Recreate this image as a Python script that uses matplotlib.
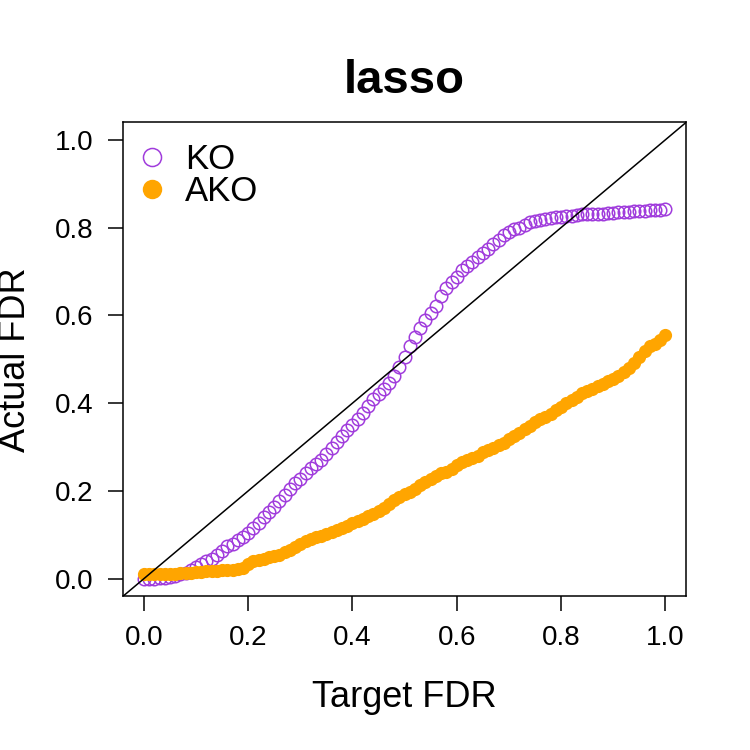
import numpy as np
import matplotlib
matplotlib.use("Agg")
import matplotlib.pyplot as plt
from matplotlib.lines import Line2D

plt.rcParams["font.family"] = ["Liberation Sans", "DejaVu Sans"]

# target FDR levels 0.00, 0.01, ..., 1.00
target_fdr = np.linspace(0.0, 1.0, 101)

ko_fdr = [
    0.000, 0.000, 0.000, 0.001, 0.002, 0.004, 0.007, 0.010, 0.014, 0.020,
    0.027, 0.033, 0.040, 0.046, 0.055, 0.062, 0.075, 0.080, 0.088, 0.095,
    0.103, 0.115, 0.128, 0.140, 0.152, 0.163, 0.176, 0.190, 0.205, 0.218,
    0.228, 0.240, 0.252, 0.262, 0.270, 0.283, 0.298, 0.312, 0.325, 0.338,
    0.350, 0.365, 0.378, 0.393, 0.410, 0.420, 0.432, 0.445, 0.462, 0.482,
    0.505, 0.530, 0.550, 0.572, 0.590, 0.605, 0.622, 0.645, 0.663, 0.675,
    0.688, 0.703, 0.712, 0.722, 0.732, 0.742, 0.752, 0.762, 0.772, 0.782,
    0.790, 0.796, 0.800, 0.806, 0.812, 0.815, 0.817, 0.820, 0.822, 0.823,
    0.825, 0.826, 0.826, 0.828, 0.830, 0.830, 0.831, 0.832, 0.832, 0.833,
    0.834, 0.835, 0.836, 0.836, 0.837, 0.837, 0.838, 0.839, 0.840, 0.841,
    0.842,
]

ako_fdr = [
    0.010, 0.010, 0.010, 0.010, 0.010, 0.011, 0.011, 0.012, 0.012, 0.013,
    0.015, 0.016, 0.017, 0.018, 0.018, 0.019, 0.019, 0.020, 0.021, 0.025,
    0.033, 0.040, 0.043, 0.046, 0.049, 0.052, 0.055, 0.060, 0.066, 0.072,
    0.079, 0.086, 0.091, 0.095, 0.098, 0.102, 0.106, 0.111, 0.116, 0.120,
    0.126, 0.131, 0.137, 0.143, 0.148, 0.154, 0.160, 0.170, 0.180, 0.186,
    0.192, 0.198, 0.205, 0.213, 0.220, 0.228, 0.235, 0.240, 0.243, 0.250,
    0.260, 0.265, 0.270, 0.274, 0.280, 0.288, 0.293, 0.298, 0.304, 0.310,
    0.318, 0.325, 0.333, 0.340, 0.348, 0.356, 0.363, 0.369, 0.376, 0.384,
    0.392, 0.400, 0.408, 0.415, 0.422, 0.428, 0.433, 0.438, 0.444, 0.450,
    0.455, 0.461, 0.470, 0.480, 0.492, 0.505, 0.518, 0.530, 0.535, 0.543,
    0.556,
]

tick_vals = [0.0, 0.2, 0.4, 0.6, 0.8, 1.0]
tick_labels = ["0.0", "0.2", "0.4", "0.6", "0.8", "1.0"]

KO_COL = "#A03CDC"
AKO_COL = "#FFA500"

fig = plt.figure(figsize=(7.5, 7.5), dpi=100)
ax = fig.add_axes([0.164, 0.205, 0.751, 0.632])

ax.plot(target_fdr, ko_fdr, ls="none", marker="o", ms=9, mfc="none",
        mec=KO_COL, mew=1.1, zorder=2)
ax.plot(target_fdr, ako_fdr, ls="none", marker="o", ms=9.5, mfc=AKO_COL,
        mec=AKO_COL, mew=0, zorder=3)
ax.axline((0, 0), slope=1, color="black", lw=1.1, zorder=4)

ax.set_xlim(-0.04, 1.04)
ax.set_ylim(-0.04, 1.04)
ax.set_xticks(tick_vals, tick_labels)
ax.set_yticks(tick_vals, tick_labels)
ax.tick_params(labelsize=20, length=11, width=1.1, pad=10)
for sp in ax.spines.values():
    sp.set_linewidth(1.1)

ax.set_title("lasso", fontsize=34, fontweight="bold", pad=21)
ax.set_xlabel("Target FDR", fontsize=26)
ax.set_ylabel("Actual FDR", fontsize=26)
ax.xaxis.set_label_coords(0.5, -0.213)
ax.xaxis.label.set_va("center")
ax.yaxis.set_label_coords(-0.190, 0.5)
ax.yaxis.label.set_va("center")

handles = [
    Line2D([], [], ls="none", marker="o", ms=13, mfc="none", mec=KO_COL, mew=1.1),
    Line2D([], [], ls="none", marker="o", ms=14, mfc=AKO_COL, mec=AKO_COL, mew=0),
]
ax.legend(handles, ["KO", "AKO"], loc="upper left", bbox_to_anchor=(0.008, 0.971),
          frameon=False, fontsize=25, handlelength=1.0, handletextpad=0.45,
          labelspacing=-0.02, borderaxespad=0.0, borderpad=0.2)

fig.savefig("out.png", dpi=100)
